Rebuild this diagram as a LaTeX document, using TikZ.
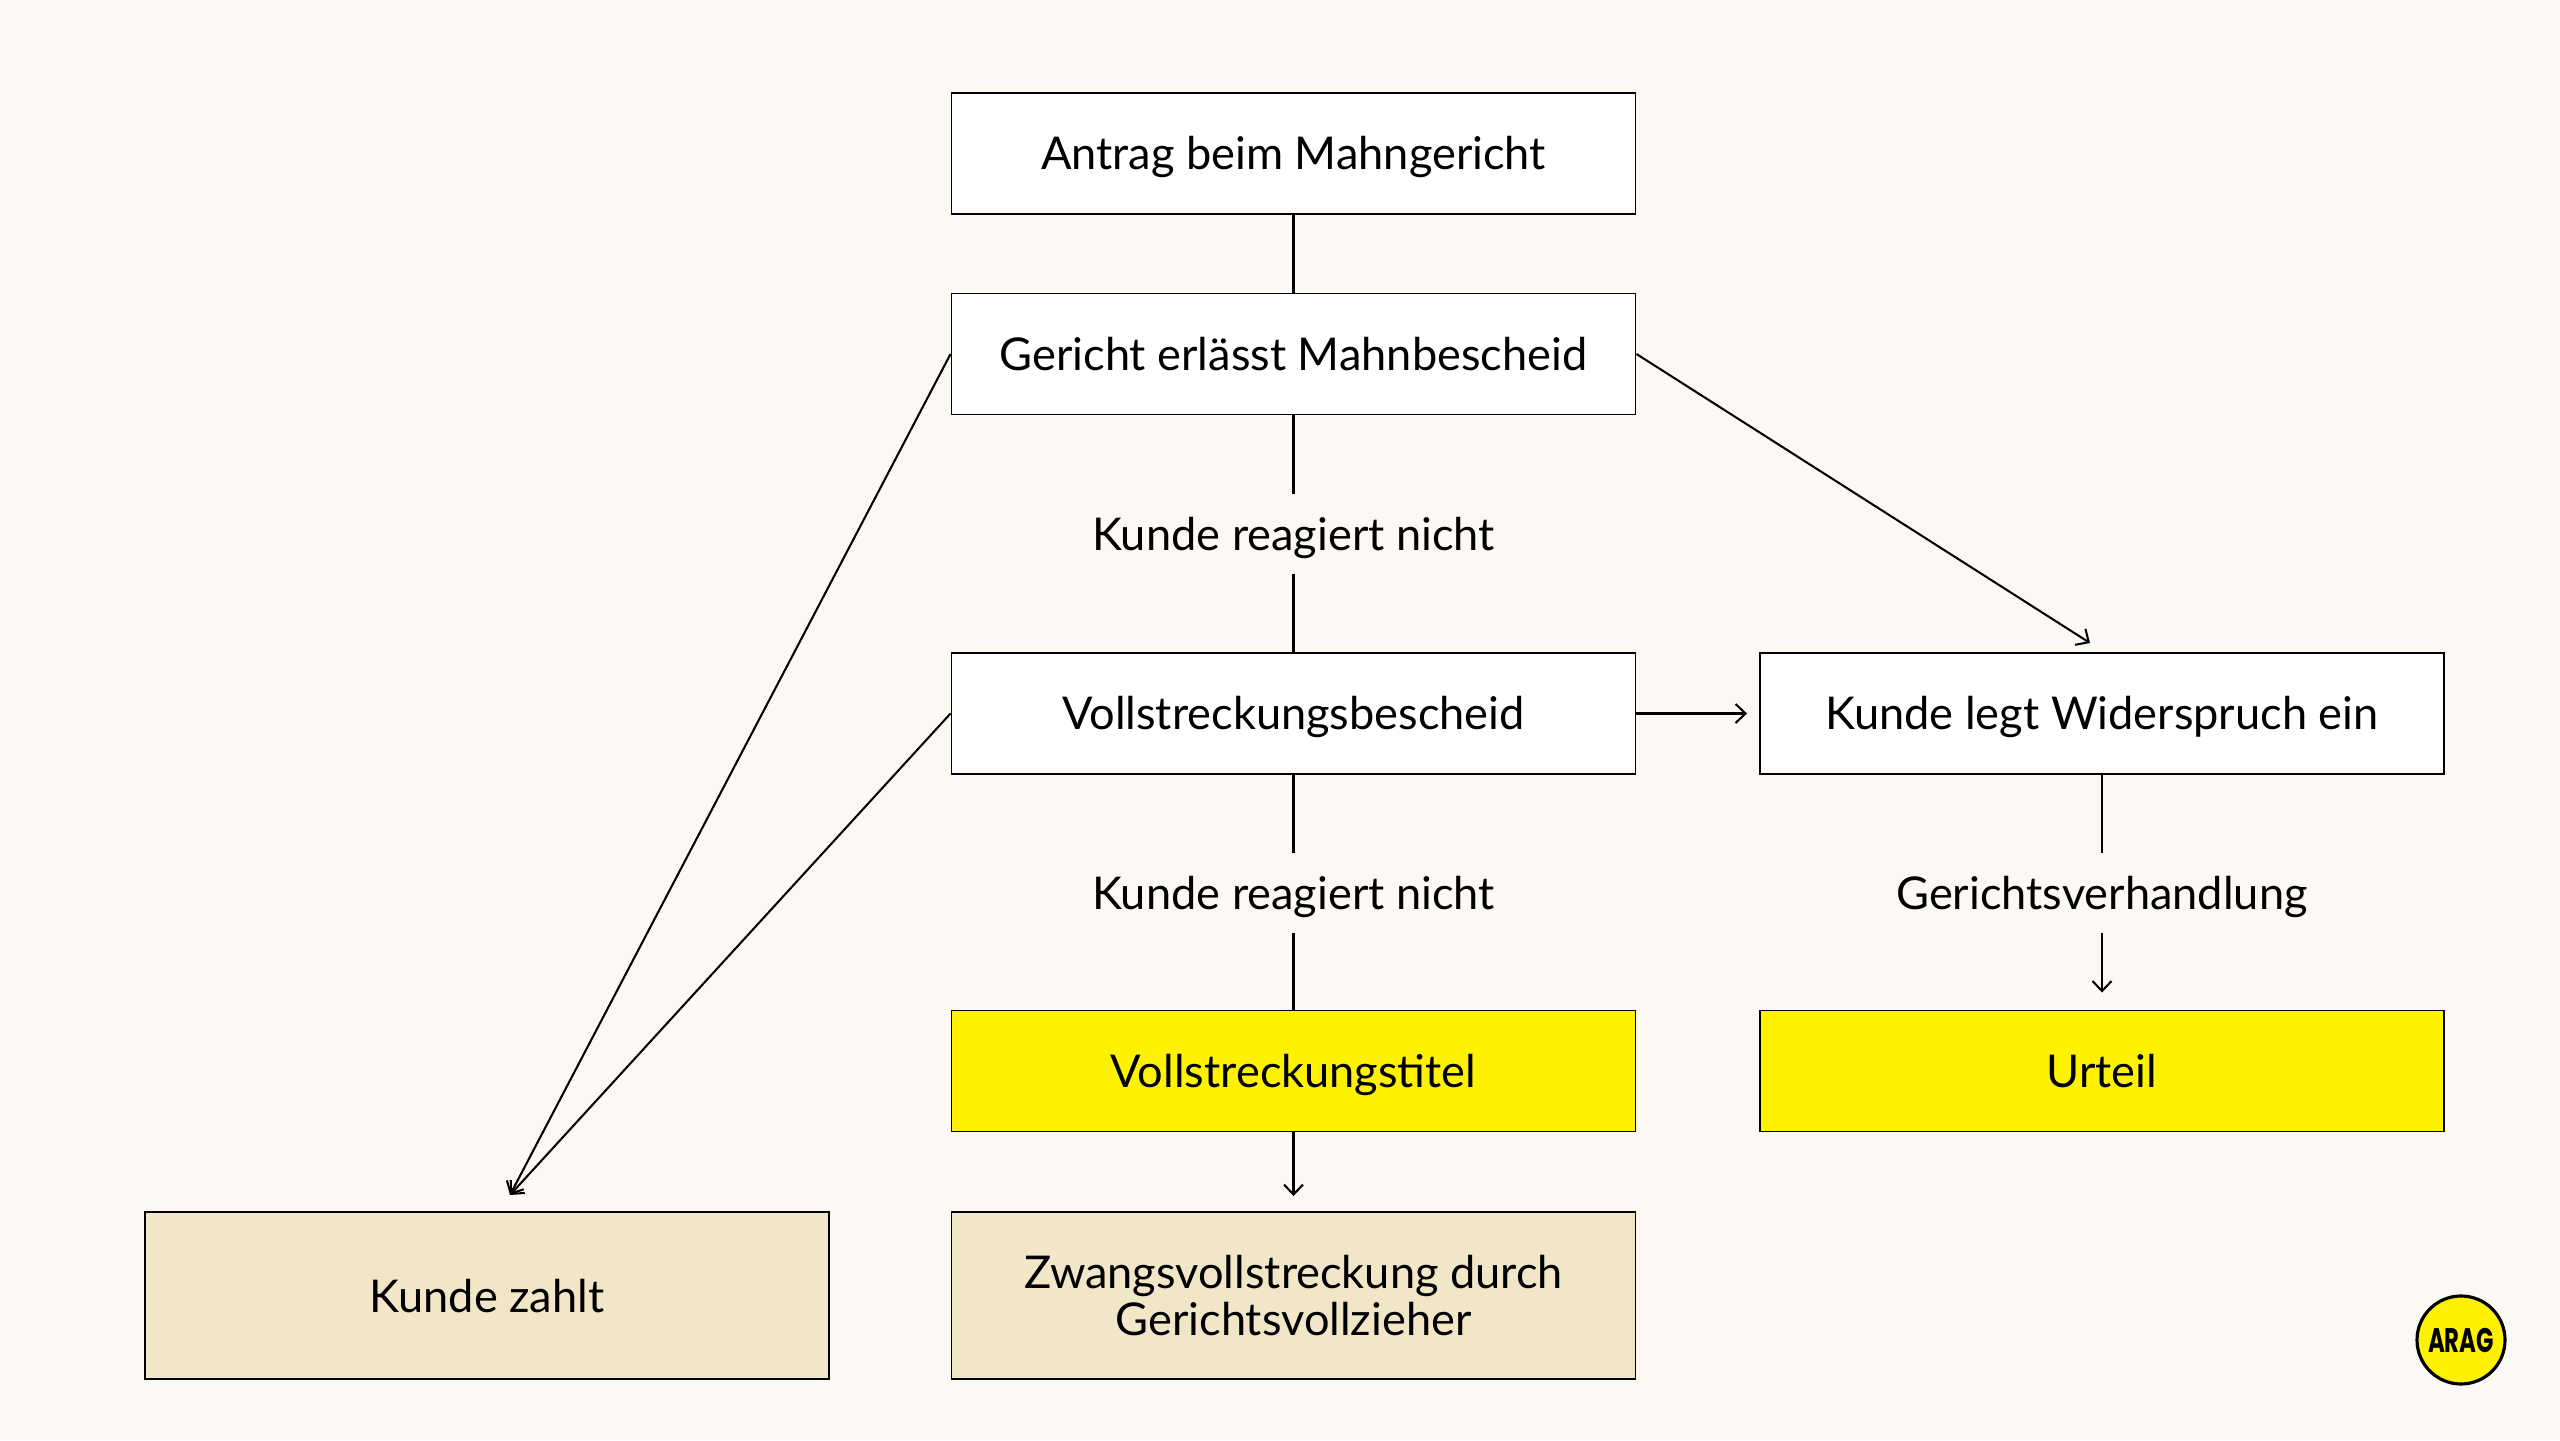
\documentclass[tikz,border=0pt]{standalone}
\usepackage{fontspec}
\setmainfont{Lato}
\newfontfamily\logofont[FakeStretch=0.67]{Poppins}
\usetikzlibrary{arrows.meta}

\definecolor{paper}{RGB}{252,249,244}
\definecolor{aragyellow}{RGB}{255,242,0}
\definecolor{sand}{RGB}{241,230,200}

\tikzset{
	box/.style = {draw = black, line width = 0.55pt, fill = white, minimum width = 6.84cm, minimum height = 1.21cm, inner sep = 0pt, align = center, font = \fontsize{12.85}{13.4}\selectfont},
	oneline/.style = {text height = 0.43cm, text depth = 0.1cm},
	boxyellow/.style = {box, fill = aragyellow},
	boxsand/.style = {box, fill = sand, minimum height = 1.67cm},
	lbl/.style = {oneline, minimum height = 0.78cm, inner sep = 0pt, font = \fontsize{12.85}{13.4}\selectfont},
	conn/.style = {line width = 0.58pt},
	arr/.style = {conn, -{Straight Barb[length = 0.1cm, width = 0.19cm]}}
}

\begin{document}
\begin{tikzpicture}
	\fill[paper] (0,0) rectangle (25.6,14.4);
	\useasboundingbox (0,0) rectangle (25.6,14.4);

	% middle column
	\node[box, oneline] (antrag) at (12.935, 12.865) {Antrag beim Mahngericht};
	\node[box, oneline] (mahnbescheid) at (12.935, 10.86) {Gericht erlässt Mahnbescheid};
	\node[lbl] (reagiert1) at (12.935, 9.06) {Kunde reagiert nicht};
	\node[box, oneline] (vollbescheid) at (12.935, 7.265) {Vollstreckungsbescheid};
	\node[lbl] (reagiert2) at (12.935, 5.47) {Kunde reagiert nicht};
	\node[boxyellow, oneline] (titel) at (12.935, 3.69) {Vollstreckungstitel};
	\node[boxsand] (zwang) at (12.935, 1.445) {Zwangsvollstreckung durch\\Gerichtsvollzieher};

	% right column
	\node[box, oneline] (widerspruch) at (21.02, 7.265) {Kunde legt Widerspruch ein};
	\node[lbl] (verhandlung) at (21.02, 5.47) {Gerichtsverhandlung};
	\node[boxyellow, oneline] (urteil) at (21.02, 3.69) {Urteil};

	% left column
	\node[boxsand, oneline] (zahlt) at (4.87, 1.445) {Kunde zahlt};

	% free arrow ends
	\coordinate (zahltTip) at (5.10, 2.45);
	\coordinate (widerTip) at (20.90, 7.97);

	% connectors
	\draw[conn] (antrag) -- (mahnbescheid);
	\draw[conn] (mahnbescheid) -- (reagiert1);
	\draw[conn] (reagiert1) -- (vollbescheid);
	\draw[conn] (vollbescheid) -- (reagiert2);
	\draw[conn] (reagiert2) -- (titel);
	\draw[conn] (widerspruch) -- (verhandlung);

	\draw[arr] (mahnbescheid.east) -- (widerTip);
	\draw[arr] (mahnbescheid.west) -- (zahltTip);
	\draw[arr] (vollbescheid.west) -- (zahltTip);
	\draw[arr, shorten > = 0.12cm] (vollbescheid) -- (widerspruch);
	\draw[arr, shorten > = 0.17cm] (verhandlung) -- (urteil);
	\draw[arr, shorten > = 0.15cm] (titel) -- (zwang);

	% logo
	\node[circle, draw = black, line width = 0.9pt, fill = aragyellow, minimum size = 0.88cm, inner sep = 0pt, font = \logofont\bfseries\fontsize{9.7}{10}\selectfont] (arag) at (24.61, 1.00) {ARAG};
\end{tikzpicture}
\end{document}
